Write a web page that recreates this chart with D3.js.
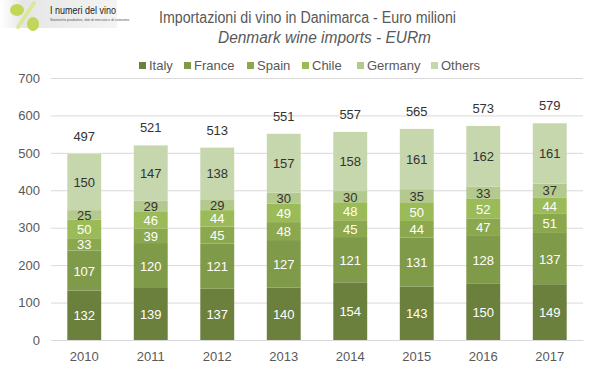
<!DOCTYPE html>
<meta charset="utf-8">
<html>
<head>
<script src="https://d3js.org/d3.v7.min.js"></script>
<style>
  body { margin: 0; background: #fff; }
  text { font-family: "Liberation Sans", Arial, sans-serif; }
</style>
</head>
<body>
<div id="chart"></div>
<script>
// data
var years = ["2010", "2011", "2012", "2013", "2014", "2015", "2016", "2017"];
var countries = ["Italy", "France", "Spain", "Chile", "Germany", "Others"];
var italy   = [132, 139, 137, 140, 154, 143, 150, 149];
var france  = [107, 120, 121, 127, 121, 131, 128, 137];
var spain   = [33, 39, 45, 48, 45, 44, 47, 51];
var chile   = [50, 46, 44, 49, 48, 50, 52, 44];
var germany = [25, 29, 29, 30, 30, 35, 33, 37];
var others  = [150, 147, 138, 157, 158, 161, 162, 161];
var totals  = [497, 521, 513, 551, 557, 565, 573, 579];
var yTicks  = [0, 100, 200, 300, 400, 500, 600, 700];

var colors = ["#6b803d", "#7f9a48", "#8ca84f", "#9bbb59", "#b4c98e", "#c6d7ad"];
var labelColors = ["#fff", "#fff", "#fff", "#fff", "#333", "#333"];

var series = [italy, france, spain, chile, germany, others];
var rows = years.map(function (y, i) {
  var r = { year: y };
  countries.forEach(function (c, k) { r[c] = series[k][i]; });
  return r;
});

var width = 599, height = 378;
var x = d3.scaleBand(years, [51, 583]).paddingInner(0.49).paddingOuter(0.245);
var y = d3.scaleLinear([0, 700], [340, 78]);

var svg = d3.select("#chart").append("svg")
  .attr("width", width).attr("height", height);

// logo
var grad = svg.append("defs").append("linearGradient").attr("id", "hdr");
grad.append("stop").attr("offset", "0%").attr("stop-color", "#ffffff");
grad.append("stop").attr("offset", "20%").attr("stop-color", "#e6e6e6");
grad.append("stop").attr("offset", "100%").attr("stop-color", "#f4f4f4");
svg.append("rect").attr("x", 0).attr("y", 0).attr("width", 117).attr("height", 28).attr("fill", "url(#hdr)");
svg.append("line").attr("x1", 34).attr("y1", 3).attr("x2", 18).attr("y2", 27)
  .attr("stroke", "#dbe89a").attr("stroke-width", 4).attr("stroke-linecap", "round");
svg.append("ellipse").attr("cx", 17).attr("cy", 10).attr("rx", 7).attr("ry", 6).attr("fill", "#c3d65a");
svg.append("ellipse").attr("cx", 33).attr("cy", 24).attr("rx", 6).attr("ry", 7).attr("fill", "#c3d65a");
svg.append("text").attr("x", 50).attr("y", 14).attr("font-size", 10).attr("fill", "#222")
  .attr("textLength", 66).attr("lengthAdjust", "spacingAndGlyphs").text("I numeri del vino");
svg.append("text").attr("x", 50).attr("y", 21).attr("font-size", 3.5).attr("fill", "#555")
  .text("Statistiche produttive, dati di mercato e di consumo");

// titles
svg.append("text").attr("x", 159).attr("y", 23)
  .attr("font-size", 16).attr("fill", "#595959")
  .attr("textLength", 297).attr("lengthAdjust", "spacingAndGlyphs")
  .text("Importazioni di vino in Danimarca - Euro milioni");
svg.append("text").attr("x", 218).attr("y", 43)
  .attr("font-size", 16).attr("font-style", "italic").attr("fill", "#595959")
  .attr("textLength", 213).attr("lengthAdjust", "spacingAndGlyphs")
  .text("Denmark wine imports - EURm");

// legend
var legX = [139, 184, 247, 302, 357, 431];
var leg = svg.append("g").selectAll("g").data(countries).join("g")
  .attr("transform", function (d, i) { return "translate(" + legX[i] + ",62)"; });
leg.append("rect").attr("width", 7).attr("height", 7).attr("fill", function (d, i) { return colors[i]; });
leg.append("text").attr("x", 10).attr("y", 8).attr("font-size", 13).attr("fill", "#595959").text(function (d) { return d; });

// grid + y axis
svg.append("g").attr("transform", "translate(51,0)")
  .call(d3.axisLeft(y).tickValues(yTicks).tickSize(0).tickPadding(11))
  .call(function (g) { g.select(".domain").remove(); })
  .call(function (g) {
    g.selectAll(".tick line").clone().attr("x2", 532).attr("stroke", "#d9d9d9");
    g.selectAll(".tick text").attr("font-size", 13).attr("fill", "#595959")
      .style("font-family", "'Liberation Sans', Arial, sans-serif");
  });

// bars
var stack = d3.stack().keys(countries)(rows);
var layer = svg.append("g").selectAll("g").data(stack).join("g")
  .attr("fill", function (d, i) { return colors[i]; });
layer.selectAll("rect").data(function (d) { return d; }).join("rect")
  .attr("x", function (d) { return x(d.data.year); })
  .attr("y", function (d) { return y(d[1]); })
  .attr("height", function (d) { return y(d[0]) - y(d[1]); })
  .attr("width", x.bandwidth());

// segment labels
stack.forEach(function (s, i) {
  svg.append("g").selectAll("text").data(s).join("text")
    .attr("x", function (d) { return x(d.data.year) + x.bandwidth() / 2; })
    .attr("y", function (d) { return y((d[0] + d[1]) / 2) + 5; })
    .attr("text-anchor", "middle").attr("font-size", 13)
    .attr("fill", labelColors[i])
    .text(function (d) { return d[1] - d[0]; });
});

// totals
svg.append("g").selectAll("text").data(rows).join("text")
  .attr("x", function (d) { return x(d.year) + x.bandwidth() / 2; })
  .attr("y", function (d, i) { return y(totals[i]) - 13; })
  .attr("text-anchor", "middle").attr("font-size", 13).attr("fill", "#333")
  .text(function (d, i) { return totals[i]; });

// x axis
svg.append("g").attr("transform", "translate(0,340)")
  .call(d3.axisBottom(x).tickSize(0).tickPadding(12))
  .call(function (g) { g.select(".domain").attr("stroke", "#d9d9d9"); })
  .call(function (g) {
    g.selectAll(".tick text").attr("font-size", 13).attr("fill", "#595959")
      .style("font-family", "'Liberation Sans', Arial, sans-serif");
  });
</script>
</body>
</html>
